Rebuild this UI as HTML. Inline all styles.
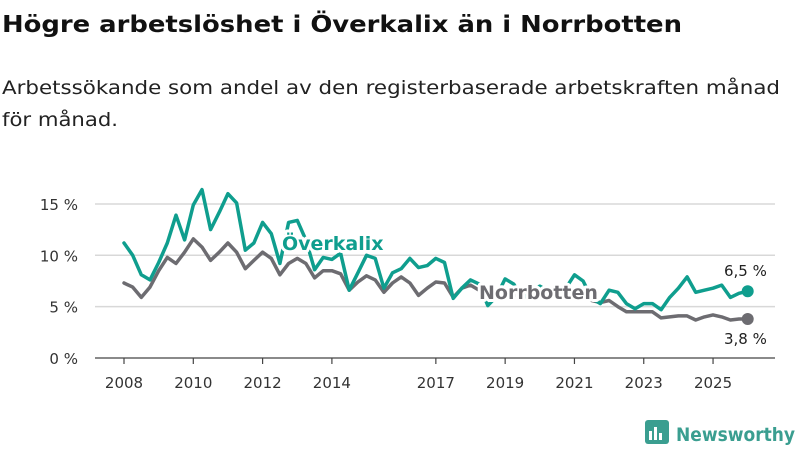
<!DOCTYPE html>
<html><head><meta charset="utf-8"><style>
html,body{margin:0;padding:0;background:#fff;}
svg{display:block;font-family:"DejaVu Sans","Liberation Sans",sans-serif;}
</style></head><body>
<svg id="chart" width="800" height="450" viewBox="0 0 800 450" xmlns="http://www.w3.org/2000/svg">
<text x="2" y="32" font-size="23" font-weight="bold" fill="#111" textLength="680" lengthAdjust="spacingAndGlyphs">Högre arbetslöshet i Överkalix än i Norrbotten</text>
<text x="2" y="94" font-size="19" fill="#222" textLength="778" lengthAdjust="spacingAndGlyphs">Arbetssökande som andel av den registerbaserade arbetskraften månad</text>
<text x="2" y="126" font-size="19" fill="#222" textLength="116" lengthAdjust="spacingAndGlyphs">för månad.</text>
<g id="grid"></g><g id="lines"></g><g id="labels"></g>
<g>
<rect x="645" y="420" width="24" height="24" rx="3" fill="#3a9e90"/>
<rect x="649" y="431" width="3" height="9" fill="#fff"/><rect x="654" y="427" width="3" height="13" fill="#fff"/><rect x="659" y="433" width="3" height="7" fill="#fff"/>
<text x="676" y="441" font-size="19" font-weight="bold" fill="#3a9e90" textLength="119" lengthAdjust="spacingAndGlyphs">Newsworthy</text>
</g>
</svg>
<script>
const startYear = 2008;
const stepYears = 0.25;
const overkalix = [11.2,10.0,8.1,7.6,9.3,11.2,13.9,11.5,14.9,16.4,12.5,14.2,16.0,15.1,10.5,11.2,13.2,12.1,9.2,13.2,13.4,11.5,8.6,9.8,9.6,10.2,6.6,8.3,10.0,9.7,6.8,8.3,8.7,9.7,8.8,9.0,9.7,9.3,5.8,6.8,7.6,7.2,5.1,6.0,7.7,7.2,5.8,6.5,7.0,6.5,6.0,6.8,8.1,7.5,5.8,5.3,6.6,6.4,5.3,4.8,5.3,5.3,4.7,5.9,6.8,7.9,6.4,6.6,6.8,7.1,5.9,6.3,6.5];
const norrbotten = [7.3,6.9,5.9,6.9,8.5,9.8,9.2,10.3,11.6,10.8,9.5,10.3,11.2,10.3,8.7,9.5,10.3,9.7,8.1,9.2,9.7,9.2,7.8,8.5,8.5,8.2,6.6,7.4,8.0,7.6,6.4,7.3,7.9,7.3,6.1,6.8,7.4,7.3,5.9,6.8,7.1,6.6,6.0,6.3,6.6,6.2,5.9,6.1,6.8,6.6,6.0,6.0,6.2,5.9,5.6,5.4,5.6,5.0,4.5,4.5,4.5,4.5,3.9,4.0,4.1,4.1,3.7,4.0,4.2,4.0,3.7,3.8,3.8];
const yTicks = [0,5,10,15];
const yTickLabels = ["0 %","5 %","10 %","15 %"];
const xTicks = [2008,2010,2012,2014,2017,2019,2021,2023,2025];
const endLabels = ["6,5 %","3,8 %"];

const X0=95, X1=775;
const xs = y => 124 + (y-2008)*34.65;
const ys = v => 358 - v*10.27;
const NS="http://www.w3.org/2000/svg";
function mk(tag, attrs, parent){const e=document.createElementNS(NS,tag);for(const k in attrs)e.setAttribute(k,attrs[k]);parent.appendChild(e);return e;}
const grid=document.getElementById('grid'), lines=document.getElementById('lines'), labels=document.getElementById('labels');
yTicks.forEach((t,i)=>{
  const l=mk('line',{x1:X0,x2:X1,y1:ys(t),y2:ys(t),stroke:t===0?'#444':'#d8d8d8','stroke-width':t===0?1.3:1.5},grid);
  
  
  const tx=mk('text',{x:78,y:ys(t)+6,'font-size':15,fill:'#333','text-anchor':'end'},grid);
  tx.textContent=yTickLabels[i];
  
  
});
xTicks.forEach(t=>{
  const l=mk('line',{x1:xs(t),x2:xs(t),y1:358,y2:364,stroke:'#444','stroke-width':1.2},grid);
  
  
  const tx=mk('text',{x:xs(t),y:388,'font-size':15,fill:'#333','text-anchor':'middle'},grid);
  tx.textContent=t;
  
  
});
function series(arr,color,name){
  const d=arr.map((v,i)=>(i?'L':'M')+xs(startYear+i*stepYears).toFixed(1)+','+ys(v).toFixed(1)).join('');
  const p=mk('path',{d:d,fill:'none',stroke:color,'stroke-width':3.5,'stroke-linejoin':'round','stroke-linecap':'round'},lines);
  
  
  const n=arr.length-1;
  const c=mk('circle',{cx:xs(startYear+n*stepYears),cy:ys(arr[n]),r:6,fill:color},lines);
  
  
}
series(norrbotten,'#6d6c71','norrbotten');
series(overkalix,'#0f9e8e','overkalix');
function lbl(x,y,txt,color,size,bold,name){
  const t=mk('text',{x:x,y:y,'font-size':size,'font-weight':bold?'bold':'normal',fill:color,stroke:'#fff','stroke-width':bold?6:4,'paint-order':'stroke','stroke-linejoin':'round'},labels);
  t.textContent=txt;
  
  
}
lbl(282,250,'Överkalix','#0f9e8e',19,true,'overkalix-series-label');
lbl(479,299,'Norrbotten','#6d6c71',19,true,'norrbotten-series-label');
lbl(724,276,endLabels[0],'#222',15,false,'overkalix-end-value');
lbl(724,344,endLabels[1],'#222',15,false,'norrbotten-end-value');
</script>
</body></html>
